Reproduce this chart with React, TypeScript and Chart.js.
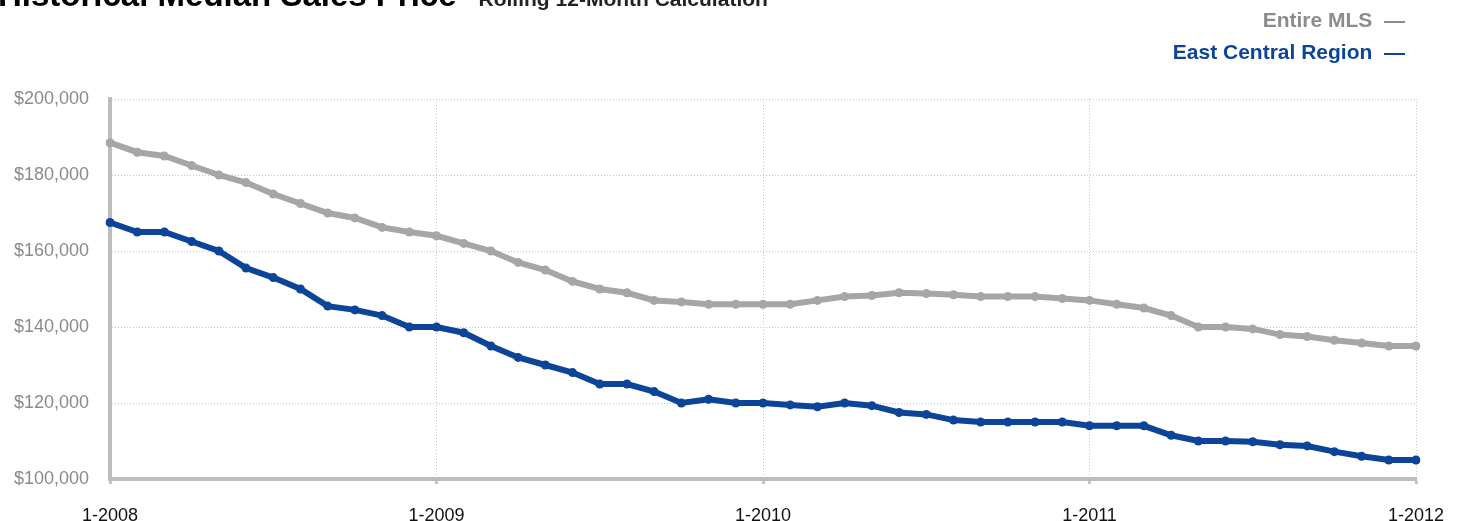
import { useRef, useEffect } from "react";
import Chart from "chart.js/auto";

const years = [2008, 2009, 2010, 2011, 2012];
const months = years.flatMap((y) =>
  y === 2012 ? [`1-${y}`] : Array.from({ length: 12 }, (_, i) => `${i + 1}-${y}`)
);

const entireMls = [
  188500, 186000, 185000, 182500, 180000, 178000, 175000, 172500, 170000, 168700, 166200, 165000,
  164000, 162000, 160000, 157000, 155000, 152000, 150000, 149000, 147000, 146600, 146000, 146000,
  146000, 146000, 147000, 148000, 148300, 149000, 148800, 148500, 148000, 148000, 148000, 147500,
  147000, 146000, 145000, 143000, 140000, 140000, 139500, 138000, 137500, 136500, 135800, 135000,
  135000,
];

const eastCentral = [
  167500, 165000, 165000, 162500, 160000, 155500, 153000, 150000, 145500, 144500, 143000, 140000,
  140000, 138500, 135000, 132000, 130000, 128000, 125000, 125000, 123000, 120000, 121000, 120000,
  120000, 119500, 119000, 120000, 119300, 117500, 117000, 115500, 115000, 115000, 115000, 115000,
  114000, 114000, 114000, 111500, 110000, 110000, 109800, 109000, 108700, 107200, 106000, 105000,
  105000,
];

const GRAY = "#a6a6a6";
const BLUE = "#0c4499";
const FONT = "'Liberation Sans', Arial, Helvetica, sans-serif";

const App = () => {
  const chartRef = useRef<HTMLCanvasElement>(null);
  const chartInstanceRef = useRef<Chart | null>(null);

  useEffect(() => {
    if (!chartRef.current) return;
    if (chartInstanceRef.current) {
      chartInstanceRef.current.destroy();
    }
    chartInstanceRef.current = new Chart(chartRef.current, {
      type: "line",
      data: {
        labels: months,
        datasets: [
          {
            label: "Entire MLS",
            data: entireMls,
            borderColor: GRAY,
            backgroundColor: GRAY,
            borderWidth: 6,
            pointRadius: 4.5,
            pointBorderWidth: 0,
            tension: 0,
          },
          {
            label: "East Central Region",
            data: eastCentral,
            borderColor: BLUE,
            backgroundColor: BLUE,
            borderWidth: 6,
            pointRadius: 4.5,
            pointBorderWidth: 0,
            tension: 0,
          },
        ],
      },
      options: {
        animation: false,
        responsive: true,
        maintainAspectRatio: false,
        layout: { padding: { top: 99, right: 46, left: 0, bottom: 0 } },
        plugins: {
          legend: { display: false },
          tooltip: { enabled: false },
        },
        scales: {
          x: {
            offset: false,
            grid: {
              color: (ctx) => (ctx.index % 12 === 0 && ctx.index > 0 ? "#c8c8c8" : "transparent"),
              lineWidth: 1,
              drawTicks: true,
              tickLength: 5,
              tickWidth: 3,
              tickColor: (ctx) => (ctx.index % 12 === 0 ? "#c4c4c4" : "transparent"),
            },
            border: { color: "#bdbdbd", width: 4, dash: [1, 2] },
            ticks: {
              autoSkip: false,
              maxRotation: 0,
              padding: 21,
              color: "#111",
              font: { family: FONT, size: 18 },
              callback: (_v, i) => (i % 12 === 0 ? months[i] : ""),
            },
            afterFit: (scale) => {
              scale.height = 42;
              scale.paddingLeft = 0;
              scale.paddingRight = 0;
            },
          },
          y: {
            min: 100000,
            max: 200000,
            grid: {
              color: (ctx) => (ctx.index > 0 ? "#c8c8c8" : "transparent"),
              lineWidth: 1,
              drawTicks: false,
            },
            border: { color: "#bdbdbd", width: 4, dash: [1, 2] },
            ticks: {
              stepSize: 20000,
              padding: 21,
              color: "#8a8a8a",
              font: { family: FONT, size: 18 },
              callback: (v) => "$" + Number(v).toLocaleString("en-US"),
            },
            afterFit: (scale) => {
              scale.width = 110;
              scale.paddingTop = 0;
              scale.paddingBottom = 0;
            },
          },
        },
      },
    });

    return () => {
      chartInstanceRef.current?.destroy();
    };
  }, []);

  return (
    <div
      style={{
        position: "fixed",
        top: 0,
        left: 0,
        width: 1462,
        height: 521,
        background: "#fff",
        overflow: "hidden",
        fontFamily: FONT,
      }}
    >
      <canvas ref={chartRef} style={{ position: "absolute", top: 0, left: 0 }} />
      <div
        style={{
          position: "absolute",
          top: -21,
          left: -2,
          whiteSpace: "nowrap",
          lineHeight: "32px",
        }}
      >
        <span style={{ fontSize: 33, fontWeight: "bold", color: "#000" }}>
          Historical Median Sales Price
        </span>
        <span style={{ fontSize: 21, fontWeight: "bold", color: "#222", marginLeft: 22 }}>
          Rolling 12-Month Calculation
        </span>
      </div>
      <div
        style={{
          position: "absolute",
          top: 4,
          right: 57,
          textAlign: "right",
          fontWeight: "bold",
          fontSize: 21,
          lineHeight: "32px",
          whiteSpace: "nowrap",
        }}
      >
        <div style={{ color: "#8c8c8c" }}>Entire MLS&nbsp;&nbsp;—</div>
        <div style={{ color: BLUE }}>East Central Region&nbsp;&nbsp;—</div>
      </div>
    </div>
  );
};

export default App;
